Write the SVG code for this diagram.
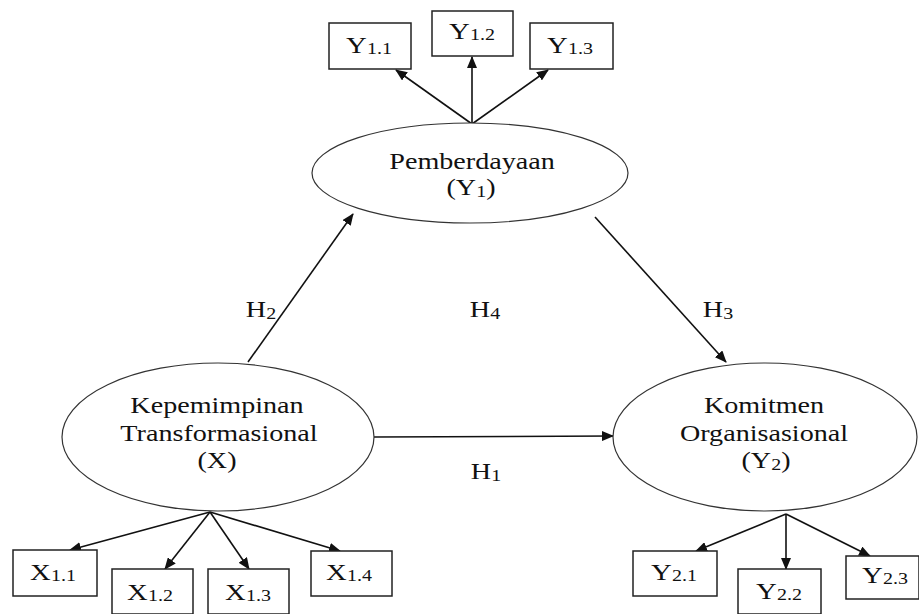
<svg xmlns="http://www.w3.org/2000/svg" width="919" height="614" viewBox="0 0 919 614">
<style>
.n{fill:#fff;stroke:#333;stroke-width:1.2}
.b{fill:#fff;stroke:#222;stroke-width:1.5}
.t{font-family:"Liberation Serif","Times New Roman",serif;font-size:22.5px;fill:#111;text-anchor:middle}
.bt{font-family:"Liberation Serif","Times New Roman",serif;font-size:23px;fill:#111;text-anchor:middle}
.s{font-size:16px}
.c{stroke:#111;stroke-width:1.6;fill:none;marker-end:url(#a)}
</style>
<defs>
<marker id="a" viewBox="0 0 12 10" refX="11" refY="5" markerWidth="12" markerHeight="10" markerUnits="userSpaceOnUse" orient="auto">
<path d="M0,0 L12,5 L0,10 Z" fill="#111"/>
</marker>
</defs>
<g id="connectors">
<line class="c" x1="472" y1="124" x2="396" y2="70"/>
<line class="c" x1="472" y1="124" x2="472" y2="57"/>
<line class="c" x1="472" y1="124" x2="548" y2="70"/>
<line class="c" x1="248" y1="362" x2="353" y2="214"/>
<line class="c" x1="595" y1="217" x2="726" y2="362"/>
<line class="c" x1="374" y1="437" x2="613" y2="436"/>
<line class="c" x1="210" y1="512" x2="70" y2="550"/>
<line class="c" x1="210" y1="512" x2="165" y2="569"/>
<line class="c" x1="210" y1="512" x2="249" y2="569"/>
<line class="c" x1="210" y1="512" x2="340" y2="551"/>
<line class="c" x1="786" y1="514" x2="696" y2="551"/>
<line class="c" x1="786" y1="514" x2="786" y2="569"/>
<line class="c" x1="786" y1="514" x2="870" y2="556"/>
</g>
<g id="labels">
<text class="t" transform="translate(261 317) scale(1.25 1)">H<tspan class="s" dy="2">2</tspan></text>
<text class="t" transform="translate(485 317) scale(1.25 1)">H<tspan class="s" dy="2">4</tspan></text>
<text class="t" transform="translate(718 317) scale(1.25 1)">H<tspan class="s" dy="2">3</tspan></text>
<text class="t" transform="translate(486 479) scale(1.25 1)">H<tspan class="s" dy="2">1</tspan></text>
</g>
<g id="Y1">
<ellipse class="n" cx="470" cy="173" rx="158" ry="50"/>
<text class="t" transform="translate(472 169) scale(1.25 1)">Pemberdayaan</text>
<text class="t" transform="translate(471 195) scale(1.25 1)">(Y<tspan class="s" dy="2">1</tspan><tspan dy="-2">)</tspan></text>
</g>
<g id="X">
<ellipse class="n" cx="218" cy="437" rx="156" ry="74"/>
<text class="t" transform="translate(217 413) scale(1.25 1)">Kepemimpinan</text>
<text class="t" transform="translate(219 441) scale(1.25 1)">Transformasional</text>
<text class="t" transform="translate(217 468) scale(1.25 1)">(X)</text>
</g>
<g id="Y2">
<ellipse class="n" cx="765" cy="437" rx="152" ry="74"/>
<text class="t" transform="translate(764 413) scale(1.25 1)">Komitmen</text>
<text class="t" transform="translate(764 441) scale(1.25 1)">Organisasional</text>
<text class="t" transform="translate(766 468) scale(1.25 1)">(Y<tspan class="s" dy="2">2</tspan><tspan dy="-2">)</tspan></text>
</g>
<g id="Y11"><rect class="b" x="329" y="23" width="82" height="46"/><text class="bt" transform="translate(369 53) scale(1.25 1)">Y<tspan class="s" dy="1">1.1</tspan></text></g>
<g id="Y12"><rect class="b" x="432" y="11" width="81" height="45"/><text class="bt" transform="translate(472 39) scale(1.25 1)">Y<tspan class="s" dy="1">1.2</tspan></text></g>
<g id="Y13"><rect class="b" x="530" y="23" width="83" height="46"/><text class="bt" transform="translate(570 53) scale(1.25 1)">Y<tspan class="s" dy="1">1.3</tspan></text></g>
<g id="X11"><rect class="b" x="13" y="550" width="84" height="46"/><text class="bt" transform="translate(53 580) scale(1.25 1)">X<tspan class="s" dy="1">1.1</tspan></text></g>
<g id="X12"><rect class="b" x="112" y="569" width="81" height="45"/><text class="bt" transform="translate(150 600) scale(1.25 1)">X<tspan class="s" dy="1">1.2</tspan></text></g>
<g id="X13"><rect class="b" x="208" y="569" width="81" height="45"/><text class="bt" transform="translate(248 600) scale(1.25 1)">X<tspan class="s" dy="1">1.3</tspan></text></g>
<g id="X14"><rect class="b" x="311" y="551" width="81" height="45"/><text class="bt" transform="translate(349 580) scale(1.25 1)">X<tspan class="s" dy="1">1.4</tspan></text></g>
<g id="Y21"><rect class="b" x="633" y="551" width="84" height="45"/><text class="bt" transform="translate(674 580) scale(1.25 1)">Y<tspan class="s" dy="1">2.1</tspan></text></g>
<g id="Y22"><rect class="b" x="738" y="569" width="83" height="45"/><text class="bt" transform="translate(779 599) scale(1.25 1)">Y<tspan class="s" dy="1">2.2</tspan></text></g>
<g id="Y23"><rect class="b" x="846" y="556" width="73" height="43"/><text class="bt" transform="translate(885 583) scale(1.25 1)">Y<tspan class="s" dy="1">2.3</tspan></text></g>
</svg>
